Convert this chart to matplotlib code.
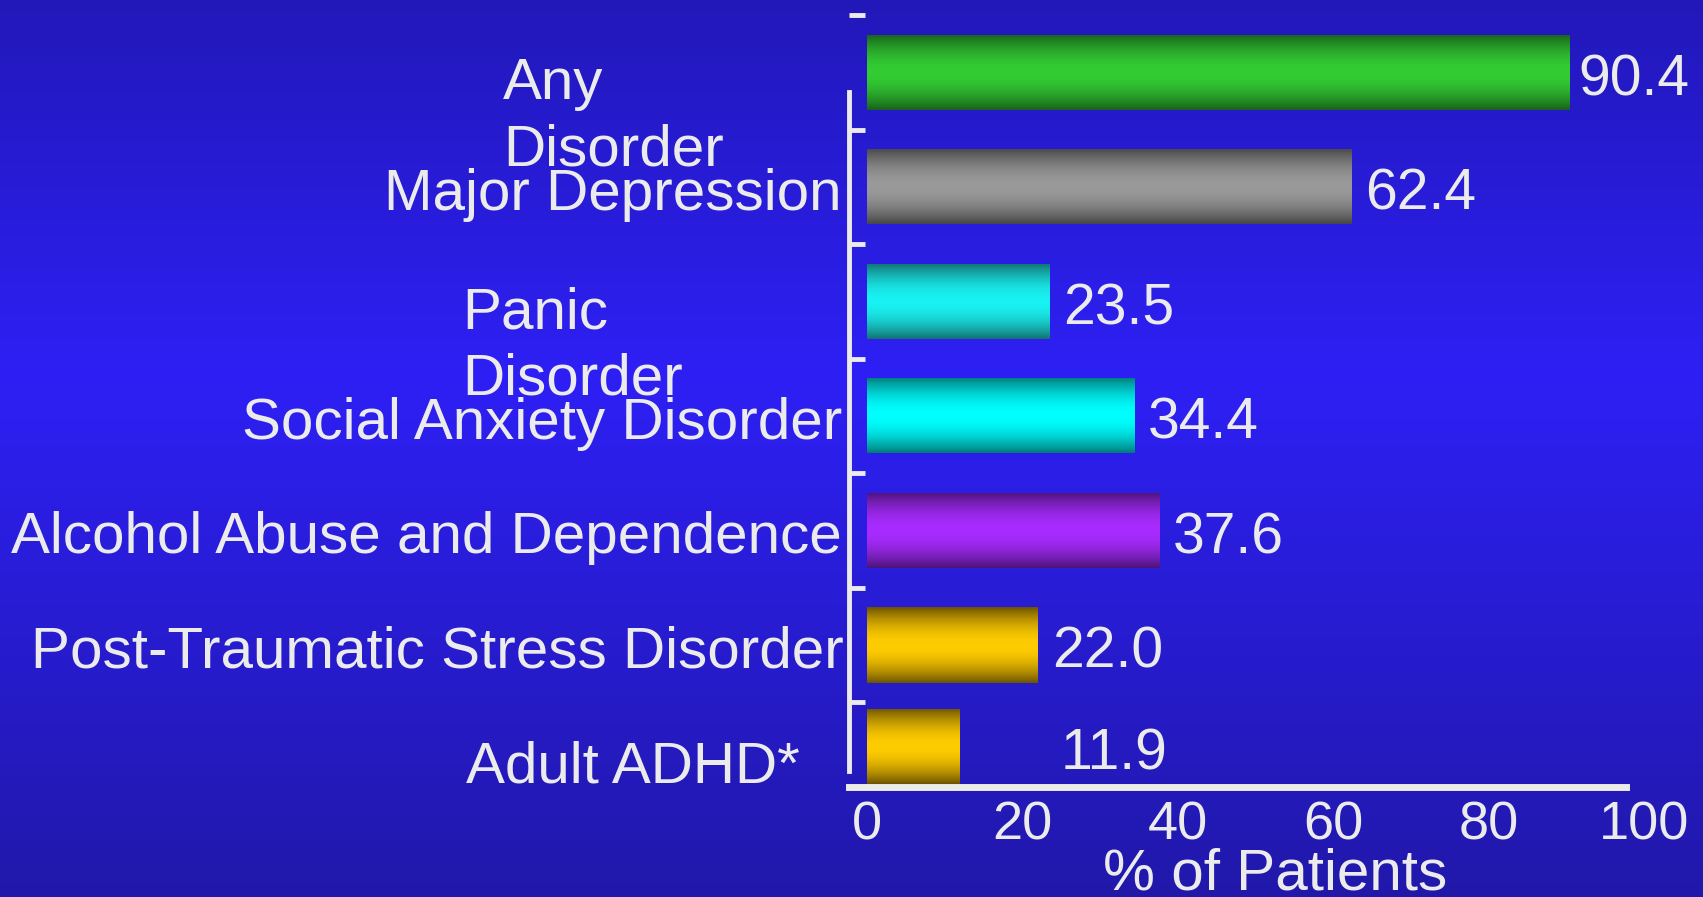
import numpy as np
import matplotlib
matplotlib.use("Agg")
import matplotlib.pyplot as plt
from matplotlib.colors import to_rgb

# comorbid disorders and share of patients (%)
disorders = ["Any\nDisorder", "Major Depression", "Panic\nDisorder",
             "Social Anxiety Disorder", "Alcohol Abuse and Dependence",
             "Post-Traumatic Stress Disorder", "Adult ADHD*"]
percent = [90.4, 62.4, 23.5, 34.4, 37.6, 22.0, 11.9]
x_ticks = [0, 20, 40, 60, 80, 100]
x_title = "% of Patients"

# (edge, centre) colours for the tube-style shading of each bar
bar_shades = [("#17601A", "#33CC33"), ("#464646", "#9A9A9A"),
              ("#137070", "#19F2F2"), ("#007A7A", "#00FFFF"),
              ("#4C1476", "#A82BFF"), ("#6C5300", "#FFCC00"),
              ("#6C5300", "#FFCC00")]

# label layout: x in axes fraction, alignment, value label offset (pt)
label_x = [-0.433, -0.009, -0.484, -0.009, -0.009, -0.006, -0.061]
label_ha = ["left", "right", "left", "right", "right", "right", "right"]
value_pad = [6.5, 9.5, 9.5, 10, 10, 10, 73]
bar_shift = [0, 0, 0, 0, 0, 0, -0.11]

TXT = "#EBEBEB"
plt.rcParams["font.family"] = ["Liberation Sans", "DejaVu Sans"]

fig = plt.figure(figsize=(17.03, 8.97), dpi=100)

# blue slide background, brighter through the middle
bg = fig.add_axes([0, 0, 1, 1], zorder=0)
stops = np.array([0.0, 0.42, 1.0])
cols = np.array([to_rgb("#2218B9"), to_rgb("#2E20F5"), to_rgb("#2118AA")])
yy = np.linspace(0, 1, 400)
grad = np.stack([np.interp(yy, stops, cols[:, i]) for i in range(3)], axis=1)
bg.imshow(grad[:, None, :], aspect="auto", extent=(0, 1, 1, 0))
bg.set_axis_off()

ax = fig.add_axes([0.4985, 0.1226, 0.4692, 0.8774], zorder=1)
ax.patch.set_alpha(0)

ypos = np.arange(len(percent)) + np.array(bar_shift)
bars = ax.barh(ypos, percent, height=0.655, color="none", linewidth=0)

s = np.linspace(0, 1, 120)
t = np.sin(np.pi * s) ** 0.9
for bar, (edge, centre) in zip(bars, bar_shades):
    e, c = np.array(to_rgb(edge)), np.array(to_rgb(centre))
    shade = e[None, :] + t[:, None] * (c - e)[None, :]
    x0, y0 = bar.get_x(), bar.get_y()
    im = ax.imshow(shade[:, None, :], aspect="auto", interpolation="bilinear",
                   extent=(x0, x0 + bar.get_width(), y0 + bar.get_height(), y0),
                   zorder=2)
    im.set_clip_path(bar)

# value labels
for bar, val, pad in zip(bars, percent, value_pad):
    ax.annotate(f"{val:.1f}", (bar.get_width(), bar.get_y() + bar.get_height() / 2 + 0.2),
                xytext=(pad, 0), textcoords="offset points",
                ha="left", va="baseline", fontsize=41, color=TXT)

# category labels (baseline alignment follows the last line of wrapped names)
ytrans = ax.get_yaxis_transform()
for i, (name, lx, ha) in enumerate(zip(disorders, label_x, label_ha)):
    dy = 0.815 if "\n" in name else 0.2
    ax.text(lx, i + dy, name, transform=ytrans, ha=ha, va="baseline",
            fontsize=42, color=TXT, linespacing=1.3, clip_on=False)

ax.set_xlim(-2.32, 100.5)
ax.set_ylim(6.24, -0.631)

ax.spines["top"].set_visible(False)
ax.spines["right"].set_visible(False)
ax.spines["left"].set_bounds(0.17, 6.1)
ax.spines["left"].set_linewidth(3.5)
ax.spines["left"].set_color(TXT)
ax.spines["bottom"].set_bounds(-2.32, 97.7)
ax.spines["bottom"].set_linewidth(5)
ax.spines["bottom"].set_color(TXT)

ax.set_yticks(np.arange(-0.5, 6, 1))
ax.set_yticklabels([])
ax.tick_params(axis="y", direction="in", length=11.5, width=3.5, color=TXT)
ax.set_xticks(x_ticks)
ax.tick_params(axis="x", length=0, pad=10, labelsize=39, labelcolor=TXT)

fig.text(0.749, 0.008, x_title, ha="center", va="baseline", fontsize=42, color=TXT)

fig.savefig("out.png", dpi=100)
